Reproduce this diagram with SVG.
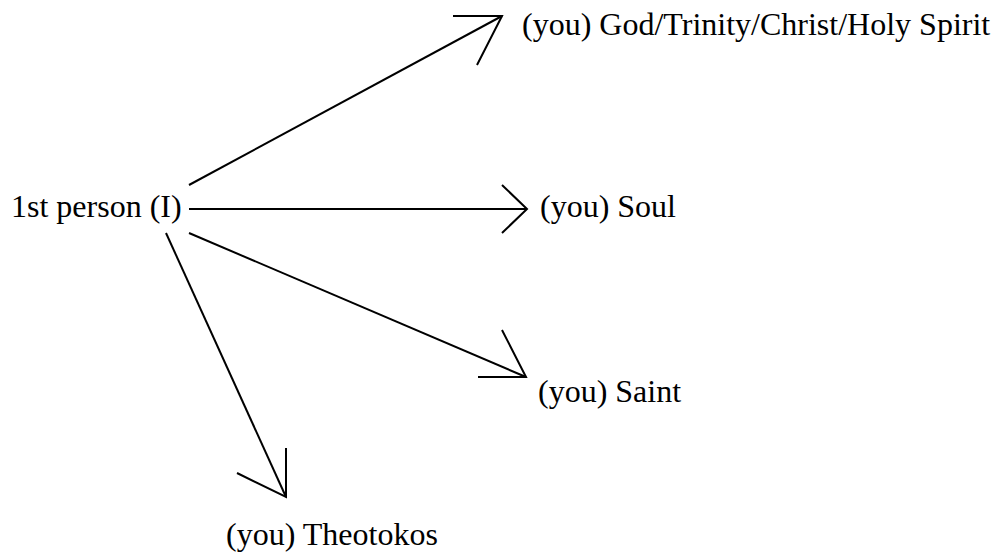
<svg xmlns="http://www.w3.org/2000/svg" width="995" height="557" viewBox="0 0 995 557">
<style>
.lbl{font-family:"Liberation Serif","Times New Roman",serif;font-size:32px;fill:#000}
.c{fill:none;stroke:#000;stroke-width:2;stroke-linecap:butt;stroke-linejoin:miter}
</style>
<rect width="995" height="557" fill="#fff"/>
<g id="connectors">
<path class="c" d="M189,185 L502,16"/>
<path class="c" d="M453,16 L502,16 L477,65"/>
<path class="c" d="M189,209 L527,209"/>
<path class="c" d="M502,185 L527,209 L502,233"/>
<path class="c" d="M189,233 L526,377"/>
<path class="c" d="M502,330 L526,377 L478,377"/>
<path class="c" d="M166,233 L286,497"/>
<path class="c" d="M286,448 L286,497 L237,473"/>
</g>
<g id="node-i"><text class="lbl" x="11" y="217">1st person (I)</text></g>
<g id="node-god"><text class="lbl" x="522" y="35">(you) God/Trinity/Christ/Holy Spirit</text></g>
<g id="node-soul"><text class="lbl" x="540" y="217">(you) Soul</text></g>
<g id="node-saint"><text class="lbl" x="538" y="402">(you) Saint</text></g>
<g id="node-theotokos"><text class="lbl" x="226" y="545">(you) Theotokos</text></g>
</svg>
